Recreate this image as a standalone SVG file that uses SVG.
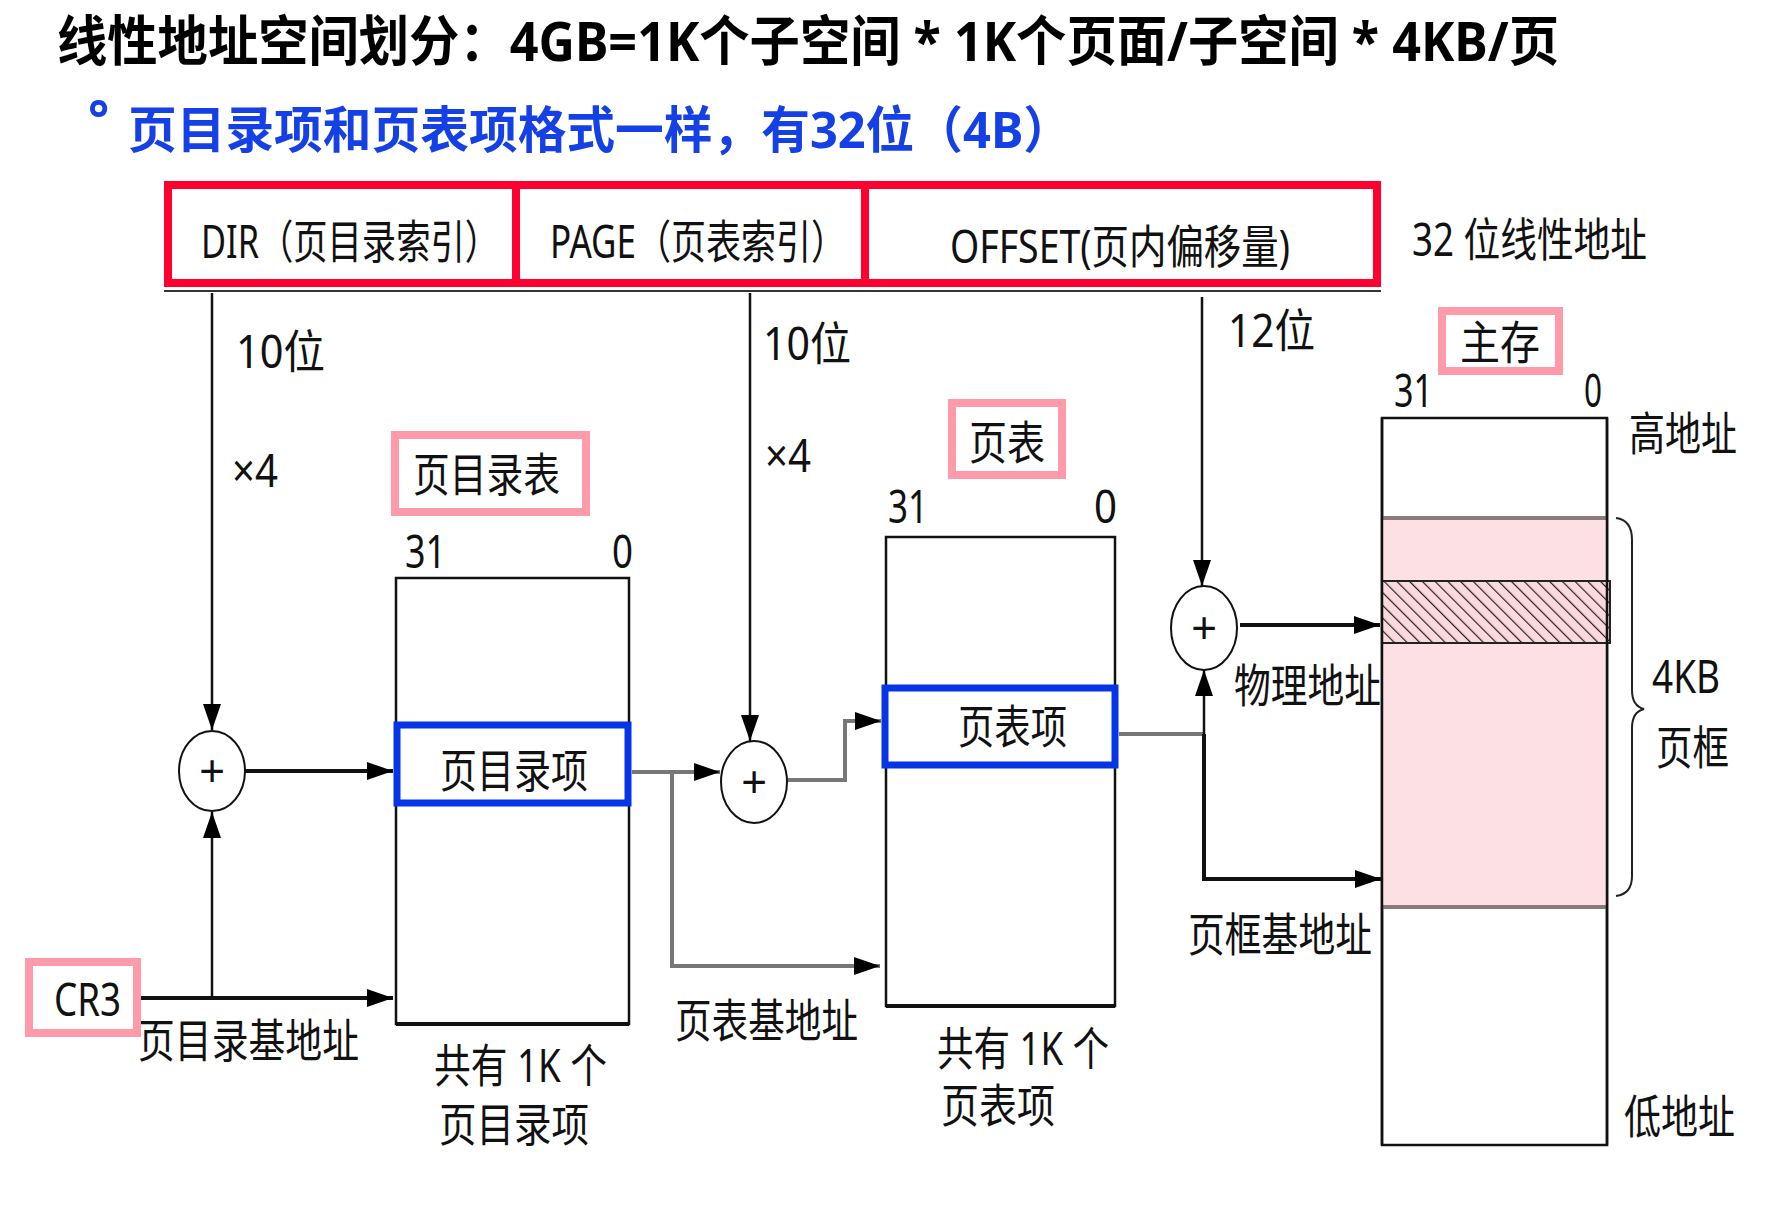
<svg xmlns="http://www.w3.org/2000/svg" width="1778" height="1205" viewBox="0 0 1778 1205">
<style>
.t{font-family:"Noto Sans","Noto Sans CJK SC",sans-serif;font-size:46px;fill:#111;}
.title{font-family:"Noto Sans","Noto Sans CJK SC",sans-serif;font-size:54px;font-weight:700;fill:#000;}
.sub{font-family:"Noto Sans","Noto Sans CJK SC",sans-serif;font-size:50px;font-weight:700;fill:#1440e6;}
.red{fill:none;stroke:#ff0030;stroke-width:8;}
.pink{fill:#fff;stroke:#ff9aaa;stroke-width:8;}
.blue{fill:#fff;stroke:#0535e6;stroke-width:7;}
.tbl{fill:#fff;stroke:#111;stroke-width:2.5;}
.ln{fill:none;stroke:#111;stroke-width:2.5;}
.lnb{fill:none;stroke:#111;stroke-width:4;}
.gr{fill:none;stroke:#777;stroke-width:4;}
.circ{fill:#fff;stroke:#111;stroke-width:2;}
.plus{font-family:"Liberation Sans",sans-serif;font-size:44px;fill:#111;}
</style>
<defs>
<marker id="ah" markerUnits="userSpaceOnUse" markerWidth="26" markerHeight="18" refX="26" refY="9" orient="auto">
<path d="M0,0 L26,9 L0,18 z" fill="#000"/>
</marker>
<pattern id="hatch" patternUnits="userSpaceOnUse" width="9" height="9" patternTransform="rotate(-45)">
<rect width="9" height="9" fill="#fbd9df"/>
<line x1="0" y1="0" x2="0" y2="9" stroke="#222" stroke-width="2.4"/>
</pattern>
</defs>
<rect width="1778" height="1205" fill="#fff"/>

<g id="title">
<text class="title" x="57" y="61" textLength="1502" lengthAdjust="spacingAndGlyphs">线性地址空间划分：4GB=1K个子空间 * 1K个页面/子空间 * 4KB/页</text>
<text class="sub" x="88" y="136" font-size="40">°</text>
<text class="sub" x="128" y="148" textLength="944" lengthAdjust="spacingAndGlyphs">页目录项和页表项格式一样，有32位（4B）</text>
</g>

<g id="linear-address">
<line x1="164" y1="291" x2="1381" y2="291" stroke="#333" stroke-width="2"/>
<g id="dir-field">
<rect class="red" x="168" y="185" width="348" height="98"/>
<text class="t" x="201" y="258" textLength="298" lengthAdjust="spacingAndGlyphs">DIR（页目录索引）</text>
</g>
<g id="page-field">
<rect class="red" x="516" y="185" width="349" height="98"/>
<text class="t" x="550" y="258" textLength="296" lengthAdjust="spacingAndGlyphs">PAGE（页表索引）</text>
</g>
<g id="offset-field">
<rect class="red" x="865" y="185" width="512" height="98"/>
<text class="t" x="950" y="263" textLength="340" lengthAdjust="spacingAndGlyphs">OFFSET(页内偏移量)</text>
</g>
<text class="t" x="1412" y="256" textLength="235" lengthAdjust="spacingAndGlyphs">32 位线性地址</text>
</g>

<g id="connectors">
<line class="ln" x1="212" y1="293" x2="212" y2="730" marker-end="url(#ah)"/>
<line class="ln" x1="212" y1="998" x2="212" y2="812" marker-end="url(#ah)"/>
<line class="lnb" x1="245" y1="771" x2="393" y2="771" marker-end="url(#ah)"/>
<line class="lnb" x1="141" y1="998" x2="393" y2="998" marker-end="url(#ah)"/>
<line class="gr" x1="632" y1="772" x2="720" y2="772" marker-end="url(#ah)"/>
<polyline class="gr" points="672,772 672,966 880,966" marker-end="url(#ah)"/>
<line class="ln" x1="750" y1="293" x2="750" y2="741" marker-end="url(#ah)"/>
<polyline class="gr" points="788,780 845,780 845,721 881,721" marker-end="url(#ah)"/>
<line class="gr" x1="1119" y1="734" x2="1204" y2="734"/>
<line class="ln" x1="1204" y1="879" x2="1204" y2="670" marker-end="url(#ah)"/>
<polyline class="lnb" points="1204,734 1204,879 1381,879" marker-end="url(#ah)"/>
<line class="ln" x1="1202" y1="297" x2="1202" y2="586" marker-end="url(#ah)"/>
<line class="lnb" x1="1240" y1="625" x2="1380" y2="625" marker-end="url(#ah)"/>
</g>

<g id="labels">
<text class="t" x="236" y="368" textLength="89" lengthAdjust="spacingAndGlyphs">10位</text>
<text class="t" x="232" y="487" textLength="46" lengthAdjust="spacingAndGlyphs">×4</text>
<text class="t" x="763" y="360" textLength="88" lengthAdjust="spacingAndGlyphs">10位</text>
<text class="t" x="765" y="472" textLength="46" lengthAdjust="spacingAndGlyphs">×4</text>
<text class="t" x="1228" y="347" textLength="87" lengthAdjust="spacingAndGlyphs">12位</text>
<text class="t" x="138" y="1057" textLength="221" lengthAdjust="spacingAndGlyphs">页目录基地址</text>
<text class="t" x="675" y="1037" textLength="183" lengthAdjust="spacingAndGlyphs">页表基地址</text>
<text class="t" x="1234" y="702" textLength="147" lengthAdjust="spacingAndGlyphs">物理地址</text>
<text class="t" x="1188" y="951" textLength="184" lengthAdjust="spacingAndGlyphs">页框基地址</text>
</g>

<g id="adder1">
<ellipse class="circ" cx="212" cy="771" rx="33" ry="40"/>
<text class="plus" x="212" y="786" text-anchor="middle">+</text>
</g>
<g id="adder2">
<ellipse class="circ" cx="754" cy="782" rx="33" ry="41"/>
<text class="plus" x="754" y="797" text-anchor="middle">+</text>
</g>
<g id="adder3">
<ellipse class="circ" cx="1204" cy="628" rx="33" ry="42"/>
<text class="plus" x="1204" y="643" text-anchor="middle">+</text>
</g>

<g id="cr3">
<rect class="pink" x="29" y="962" width="108" height="71"/>
<text class="t" x="54" y="1016" textLength="67" lengthAdjust="spacingAndGlyphs">CR3</text>
</g>

<g id="page-directory">
<rect class="pink" x="395" y="435" width="191" height="77"/>
<text class="t" x="413" y="491" textLength="147" lengthAdjust="spacingAndGlyphs">页目录表</text>
<text class="t" x="405" y="568" textLength="41" lengthAdjust="spacingAndGlyphs">31</text>
<text class="t" x="612" y="568" textLength="21" lengthAdjust="spacingAndGlyphs">0</text>
<rect class="tbl" x="396" y="578" width="233" height="446"/>
<line x1="396" y1="1024" x2="629" y2="1024" stroke="#111" stroke-width="4"/>
<text class="t" x="434" y="1082" textLength="173" lengthAdjust="spacingAndGlyphs">共有 1K 个</text>
<text class="t" x="439" y="1141" textLength="150" lengthAdjust="spacingAndGlyphs">页目录项</text>
</g>
<g id="pde">
<rect class="blue" x="397" y="725" width="231" height="78"/>
<text class="t" x="440" y="787" textLength="148" lengthAdjust="spacingAndGlyphs">页目录项</text>
</g>

<g id="page-table">
<rect class="pink" x="952" y="403" width="110" height="72"/>
<text class="t" x="969" y="459" textLength="76" lengthAdjust="spacingAndGlyphs">页表</text>
<text class="t" x="888" y="523" textLength="40" lengthAdjust="spacingAndGlyphs">31</text>
<text class="t" x="1094" y="523" textLength="23" lengthAdjust="spacingAndGlyphs">0</text>
<rect class="tbl" x="886" y="537" width="229" height="469"/>
<line x1="886" y1="1006" x2="1115" y2="1006" stroke="#111" stroke-width="4"/>
<text class="t" x="937" y="1065" textLength="172" lengthAdjust="spacingAndGlyphs">共有 1K 个</text>
<text class="t" x="941" y="1122" textLength="114" lengthAdjust="spacingAndGlyphs">页表项</text>
</g>
<g id="pte">
<rect class="blue" x="885" y="688" width="230" height="77"/>
<text class="t" x="958" y="743" textLength="109" lengthAdjust="spacingAndGlyphs">页表项</text>
</g>

<g id="memory">
<rect class="pink" x="1442" y="311" width="117" height="60"/>
<text class="t" x="1460" y="359" textLength="80" lengthAdjust="spacingAndGlyphs">主存</text>
<text class="t" x="1394" y="407" textLength="39" lengthAdjust="spacingAndGlyphs">31</text>
<text class="t" x="1584" y="407" textLength="18" lengthAdjust="spacingAndGlyphs">0</text>
<rect class="tbl" x="1382" y="418" width="225" height="727"/>
<rect x="1383" y="518" width="223" height="389" fill="#fde0e4"/>
<line x1="1382" y1="518" x2="1607" y2="518" stroke="#8a7a7d" stroke-width="4"/>
<line x1="1382" y1="907" x2="1607" y2="907" stroke="#8a7a7d" stroke-width="4"/>
<rect x="1382" y="581" width="228" height="62" fill="url(#hatch)" stroke="#222" stroke-width="2"/>
<line x1="1382" y1="418" x2="1382" y2="1145" stroke="#111" stroke-width="2.5"/>
<line x1="1607" y1="418" x2="1607" y2="1145" stroke="#111" stroke-width="2.5"/>
<text class="t" x="1629" y="450" textLength="108" lengthAdjust="spacingAndGlyphs">高地址</text>
<path d="M1616,518 Q1632,520 1632,540 L1632,690 Q1632,706 1644,709 Q1632,712 1632,728 L1632,876 Q1632,894 1616,896" fill="none" stroke="#222" stroke-width="2"/>
<text class="t" x="1652" y="693" textLength="68" lengthAdjust="spacingAndGlyphs">4KB</text>
<text class="t" x="1656" y="764" textLength="73" lengthAdjust="spacingAndGlyphs">页框</text>
<text class="t" x="1624" y="1133" textLength="111" lengthAdjust="spacingAndGlyphs">低地址</text>
</g>
</svg>
